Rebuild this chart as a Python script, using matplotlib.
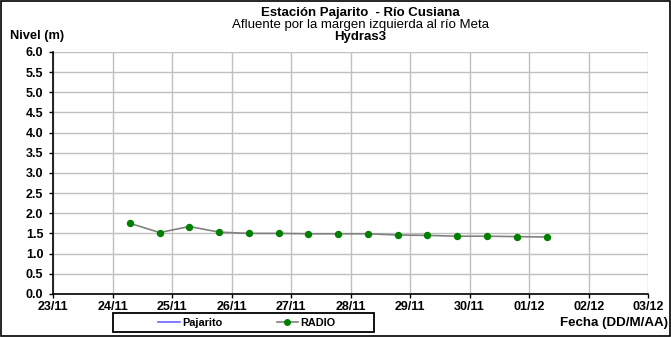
import matplotlib
matplotlib.use("Agg")
import matplotlib.pyplot as plt
import matplotlib.dates as mdates
from matplotlib.lines import Line2D
from matplotlib.patches import Rectangle
from datetime import datetime, timedelta

plt.rcParams["font.family"] = ["Liberation Sans", "DejaVu Sans"]

# Radio readings every 12 h starting 24/11 07:00
start = datetime(2013, 11, 24, 7, 0)
fechas = [start + timedelta(hours=12 * i) for i in range(15)]
nivel_radio = [1.75, 1.52, 1.67, 1.53, 1.50, 1.50, 1.49, 1.49,
               1.49, 1.46, 1.45, 1.43, 1.43, 1.42, 1.41]

x_ini = datetime(2013, 11, 23)
x_fin = datetime(2013, 12, 3)
y_ticks = [i * 0.5 for i in range(13)]

fig = plt.figure(figsize=(6.71, 3.37), dpi=100)
ax = fig.add_axes([0.079, 0.128, 0.887, 0.718])

ax.plot(fechas, nivel_radio, color="#808080", linewidth=1.2, zorder=3)
ax.plot(fechas, nivel_radio, linestyle="none", marker="o", markersize=4.3,
        color="#008000", zorder=4)

ax.set_xlim(x_ini, x_fin)
ax.set_ylim(0, 6)
ax.set_yticks(y_ticks)
ax.set_yticklabels([f"{v:.1f}" for v in y_ticks])
ax.xaxis.set_major_locator(mdates.DayLocator())
ax.xaxis.set_major_formatter(mdates.DateFormatter("%d/%m"))

ax.grid(True, color="#c0c0c0", linewidth=1)
ax.set_axisbelow(True)
for s in ["top", "right"]:
    ax.spines[s].set_visible(False)
ax.spines["left"].set_linewidth(1.2)
ax.spines["bottom"].set_linewidth(1.2)
ax.tick_params(axis="both", direction="out", length=3, width=1,
               labelsize=9, pad=2)
ax.tick_params(axis="y", pad=4)
for lbl in ax.get_xticklabels() + ax.get_yticklabels():
    lbl.set_fontweight("bold")

# titles
fig.text(0.537, 0.962, "Estación Pajarito  - Río Cusiana", ha="center",
         va="center", fontsize=9.5, fontweight="bold")
fig.text(0.537, 0.927, "Afluente por la margen izquierda al río Meta",
         ha="center", va="center", fontsize=9.5)
fig.text(0.537, 0.890, "Hydras3", ha="center", va="center", fontsize=9.5,
         fontweight="bold")
fig.text(0.015, 0.893, "Nivel (m)", ha="left", va="center", fontsize=9.3,
         fontweight="bold")
fig.text(0.996, 0.042, "Fecha (DD/M/AA)", ha="right", va="center",
         fontsize=9.6, fontweight="bold")

# legend
handles = [Line2D([], [], color="#6666ff", linewidth=1.2),
           Line2D([], [], color="#808080", linewidth=1.2, marker="o",
                  markersize=4, markerfacecolor="#008000",
                  markeredgecolor="#008000")]
leg = fig.legend(handles, ["Pajarito", "RADIO"], ncol=2,
                 loc="center", bbox_to_anchor=(0.368, 0.041),
                 prop={"weight": "bold", "size": 7.8}, frameon=False,
                 handlelength=2, columnspacing=5, borderpad=0.2,
                 handletextpad=0.2)
fig.patches.append(Rectangle((113 / 671, 5 / 337), 261 / 671, 19 / 337,
                             transform=fig.transFigure, fill=False,
                             edgecolor="black", linewidth=1.3))

# outer frame
fig.patches.append(Rectangle((0.002, 0.004), 0.996, 0.992, transform=fig.transFigure,
                             fill=False, edgecolor="black", linewidth=1.2))

fig.savefig("out.png", dpi=100)
